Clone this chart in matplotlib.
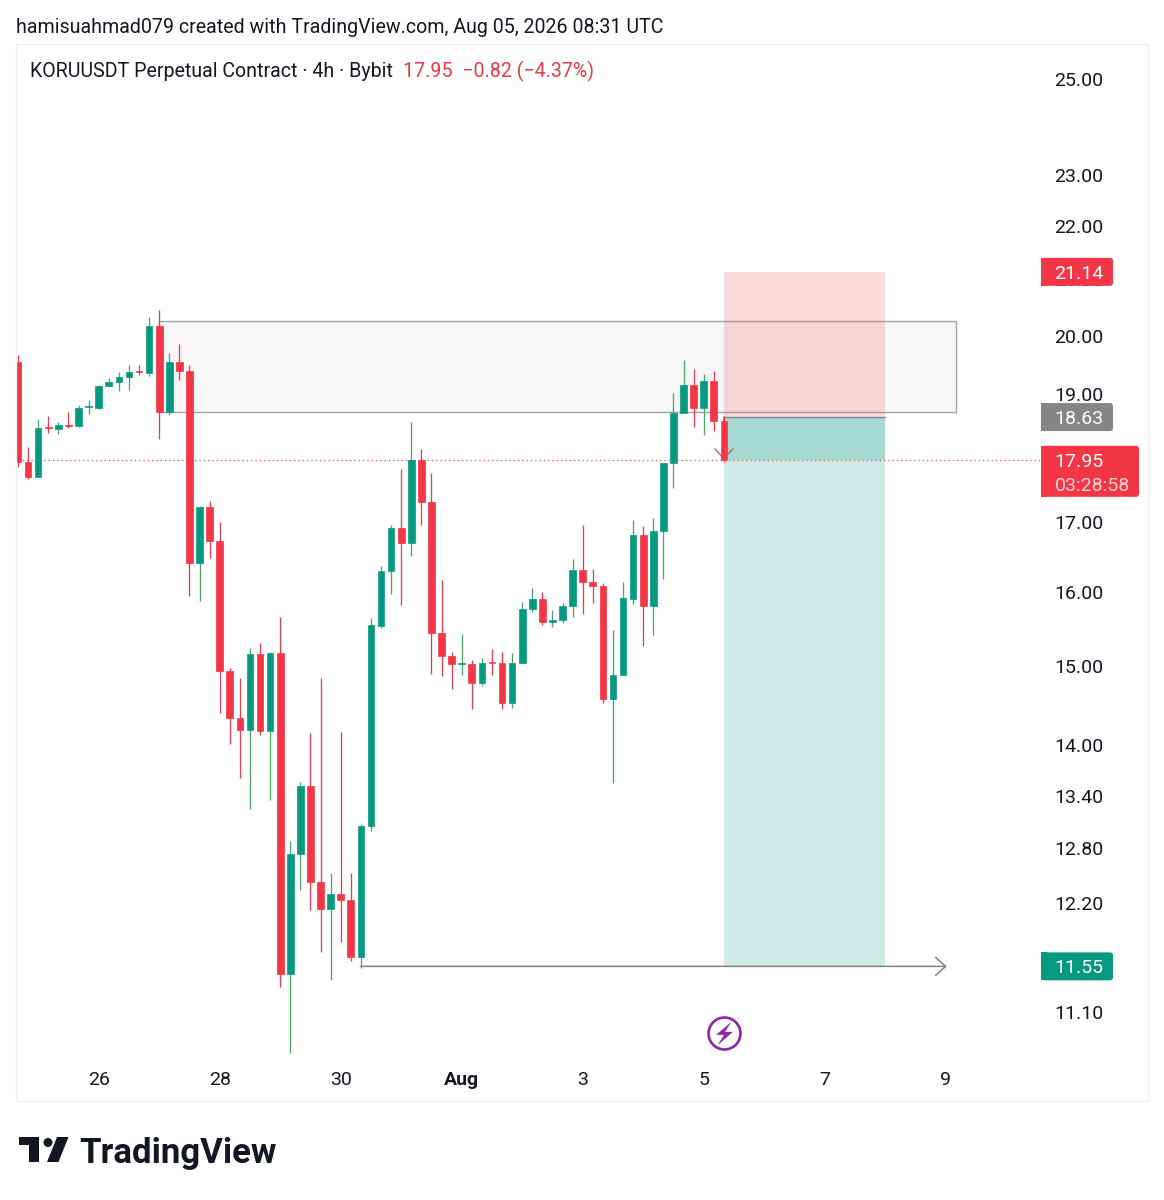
import matplotlib
matplotlib.use("Agg")
import matplotlib.pyplot as plt
from matplotlib.patches import Rectangle, FancyBboxPatch, Polygon, Circle
from matplotlib.path import Path
from matplotlib.transforms import Affine2D
from matplotlib.ticker import NullLocator

plt.rcParams['font.family'] = ['Roboto', 'DejaVu Sans']

opens = [19.54,17.91,17.69,18.47,18.44,18.50,18.49,18.79,18.78,19.14,19.21,19.29,19.39,19.36,20.17,18.71,19.54,19.39,
         16.41,17.23,16.72,14.94,14.34,14.19,15.16,14.18,15.17,11.47,12.74,13.51,12.43,12.14,12.30,12.24,11.64,13.05,
         15.53,16.30,16.91,16.70,17.95,17.31,15.44,15.13,15.03,15.03,14.78,15.05,15.04,14.53,15.04,15.77,15.90,15.58,
         15.62,15.80,16.31,16.14,16.08,14.57,14.88,15.90,16.81,15.81,16.87,17.90,18.70,19.16,18.78,19.22,18.57]
highs = [19.67,18.15,18.60,18.65,18.55,18.71,18.82,18.91,19.16,19.28,19.38,19.50,19.49,20.33,20.45,19.70,19.86,19.49,
         17.24,17.32,17.00,14.97,14.85,15.24,15.31,15.19,15.65,12.88,13.56,14.15,14.85,12.53,14.16,12.53,13.07,15.64,
         16.36,16.96,17.81,18.55,18.12,17.75,16.16,15.19,15.43,15.08,15.10,15.23,15.19,15.17,15.86,16.05,16.00,15.75,
         15.84,16.46,16.96,16.32,16.12,15.48,16.14,17.03,16.95,17.06,17.90,19.03,19.58,19.42,19.35,19.39,18.65]
lows = [17.84,17.65,17.69,18.37,18.36,18.45,18.47,18.68,18.76,19.14,19.05,19.08,19.32,19.31,18.27,18.66,19.24,15.94,
        15.88,16.48,14.40,14.02,13.61,13.25,14.13,13.35,11.34,10.71,12.34,12.13,11.70,11.41,11.80,11.60,11.53,12.99,
        15.50,15.97,15.82,16.51,16.96,14.90,14.87,14.71,14.88,14.45,14.74,14.89,14.45,14.46,15.04,15.72,15.55,15.52,
        15.57,15.65,15.70,15.85,14.52,13.55,14.88,15.83,15.26,15.41,16.18,17.51,18.70,18.47,18.34,18.40,17.92]
closes = [17.91,17.69,18.46,18.45,18.50,18.49,18.78,18.81,19.14,19.21,19.29,19.37,19.37,20.17,18.71,19.54,19.39,16.41,
          17.23,16.72,14.94,14.34,14.19,15.16,14.18,15.17,11.47,12.74,13.51,12.43,12.14,12.30,12.24,11.64,13.05,15.54,
          16.30,16.91,16.70,17.95,17.31,15.44,15.13,15.03,15.04,14.78,15.04,15.04,14.53,15.04,15.77,15.90,15.58,15.62,
          15.80,16.31,16.14,16.08,14.57,14.88,15.91,16.81,15.81,16.87,17.90,18.70,19.16,18.78,19.22,18.57,17.95]

price_ticks = [25, 23, 22, 21, 20, 19, 17, 16, 15, 14, 13.4, 12.8, 12.2, 11.1]
time_ticks = [8, 20, 32, 44, 56, 68, 80, 92]
time_labels = ['26', '28', '30', 'Aug', '3', '5', '7', '9']

last_price = 17.95
entry, stop, target = 18.63, 21.14, 11.55
box_top, box_bottom = 20.25, 18.71
GREEN, RED = '#089981', '#F23645'
INK = '#131722'

W, H = 1164, 1200
fig = plt.figure(figsize=(W / 100, H / 100), dpi=100, facecolor='white')
px = Affine2D().scale(1 / W, -1 / H).translate(0, 1) + fig.transFigure

fig.add_artist(Rectangle((16, 44), 1132, 1057, transform=px, fill=False, ec='#efefef', lw=1))

ax = fig.add_axes([15.5 / W, 1 - 1061.2 / H, (1040 - 16) / W, (1062 - 44) / H])
ax.set_yscale('log')
ax.set_xlim(-0.248, 101.3)
ax.set_ylim(10.635, 25.795)
ax.patch.set_alpha(0)
for s in ax.spines.values():
    s.set_visible(False)
ax.yaxis.set_minor_locator(NullLocator())
ax.yaxis.tick_right()
ax.set_yticks(price_ticks, [f'{v:.2f}' for v in price_ticks])
ax.set_xticks(time_ticks, time_labels)
ax.tick_params(axis='y', which='both', length=0, pad=10.4, labelsize=14, labelcolor=INK)
ax.tick_params(axis='x', length=0, pad=7, labelsize=14, labelcolor=INK)
for lab in ax.get_xticklabels():
    if lab.get_text() == 'Aug':
        lab.set_fontweight('bold')

# gray rectangle drawing
ax.add_patch(Rectangle((14, box_bottom), 79, box_top - box_bottom, fc='#f7f7f7', ec='#a3a3a3', lw=1.0, zorder=1))

# short-position tool
ax.add_patch(Rectangle((70, entry), 16, stop - entry, fc='#EE4A55', alpha=0.2, lw=0, zorder=1.5))
ax.add_patch(Rectangle((70, target), 16, entry - target, fc=GREEN, alpha=0.2, lw=0, zorder=1.5))
ax.add_patch(Rectangle((70, last_price), 16, entry - last_price, fc=GREEN, alpha=0.2, lw=0, zorder=1.6))
ax.plot([70, 86], [entry, entry], color='#8a8a8a', lw=1.0, zorder=1.7)

# last price line
ax.plot([0, 101.3], [last_price, last_price], color=RED, lw=1.0, ls=(0, (1, 2.1)), alpha=0.8, zorder=1.8)

# arrow drawings
arrow = "->,head_length=0.72,head_width=0.65"
ax.annotate('', xy=(92.1, target), xytext=(34, target), zorder=2,
            arrowprops=dict(arrowstyle=arrow, mutation_scale=10, color='#808080', lw=1.1, shrinkA=0, shrinkB=0))
ax.annotate('', xy=(70, last_price), xytext=(70, entry), zorder=2,
            arrowprops=dict(arrowstyle=arrow, mutation_scale=10, color='#b5666c', lw=1.0, shrinkA=0, shrinkB=0))

# candles
xs = list(range(len(opens)))
up = [c >= o for o, c in zip(opens, closes)]
body_cols = [GREEN if u else RED for u in up]
wick_cols = ['#4fa56c' if u else '#dc4058' for u in up]
ax.vlines(xs, lows, highs, colors=wick_cols, lw=0.95, zorder=3)
ax.bar(xs, [abs(c - o) for o, c in zip(opens, closes)], bottom=[min(o, c) for o, c in zip(opens, closes)],
       width=0.66, color=body_cols, edgecolor=body_cols, lw=0.5, zorder=4)

# lightning event marker
bolt = Path([(0.55, 1), (-0.75, -0.12), (-0.02, -0.12), (-0.55, -1), (0.75, 0.14), (0.02, 0.14), (0.55, 1)], closed=True)
ax.plot([70], [10.9], marker='o', ms=23, mfc='white', mec='#8e24aa', mew=1.9, zorder=5, clip_on=False)
ax.plot([70], [10.9], marker=bolt, ms=15, mfc='#8e24aa', mec='#8e24aa', mew=0.3, zorder=6, clip_on=False)

# price tags, placed from their price through the axis
def tag(price, color, right, above=14, below=14):
    y = H - ax.transData.transform((0, price))[1]
    fig.add_artist(FancyBboxPatch((1041, y - above), right - 1041, above + below, boxstyle='round,pad=0,rounding_size=3',
                                  transform=px, fc=color, ec='none', mutation_aspect=1))
    fig.add_artist(Rectangle((1041, y - above), 6, above + below, transform=px, fc=color, ec='none'))
    return y

y = tag(stop, RED, 1113)
fig.text(1054.5 / W, 1 - y / H, f'{stop:.2f}', color='white', fontsize=14, va='center_baseline', ha='left')
y = tag(entry, '#858585', 1113)
fig.text(1054.5 / W, 1 - y / H, f'{entry:.2f}', color='white', fontsize=14, va='center_baseline', ha='left')
y = tag(last_price, RED, 1139, above=14, below=37)
fig.text(1054.5 / W, 1 - y / H, f'{last_price:.2f}', color='white', fontsize=14, va='center_baseline', ha='left')
fig.text(1054.5 / W, 1 - (y + 24) / H, '03:28:58', color='#fcd3d7', fontsize=14, va='center_baseline', ha='left')
y = tag(target, GREEN, 1113)
fig.text(1054.5 / W, 1 - y / H, f'{target:.2f}', color='white', fontsize=14, va='center_baseline', ha='left')

# header and legend
fig.text(16 / W, 1 - 25.2 / H, 'hamisuahmad079 created with TradingView.com, Aug 05, 2026 08:31 UTC',
         color=INK, fontsize=14.17, va='center_baseline', ha='left')
fig.text(30 / W, 1 - 69.2 / H, 'KORUUSDT Perpetual Contract · 4h · Bybit', color=INK, fontsize=14.15,
         va='center_baseline', ha='left')
fig.text(403 / W, 1 - 69.2 / H, '17.95  −0.82 (−4.37%)', color='#E8394A', fontsize=14.15, va='center_baseline', ha='left')

# TradingView logo
LOGO = '#131722'
fig.add_artist(Polygon([(19, 1137), (39, 1137), (39, 1162), (29, 1162), (29, 1145), (19, 1145)], closed=True,
                       transform=px, fc=LOGO, ec='none'))
fig.add_artist(Circle((48, 1142.5), 4.5, transform=px, fc=LOGO, ec='none'))
fig.add_artist(Polygon([(57, 1137), (68.5, 1137), (58.5, 1162), (47, 1162)], closed=True, transform=px, fc=LOGO, ec='none'))
fig.text(79.5 / W, 1 - 1150 / H, 'TradingView', color=LOGO, fontsize=25, fontweight='bold',
         va='center_baseline', ha='left')

fig.savefig('out.png', dpi=100, facecolor='white')
